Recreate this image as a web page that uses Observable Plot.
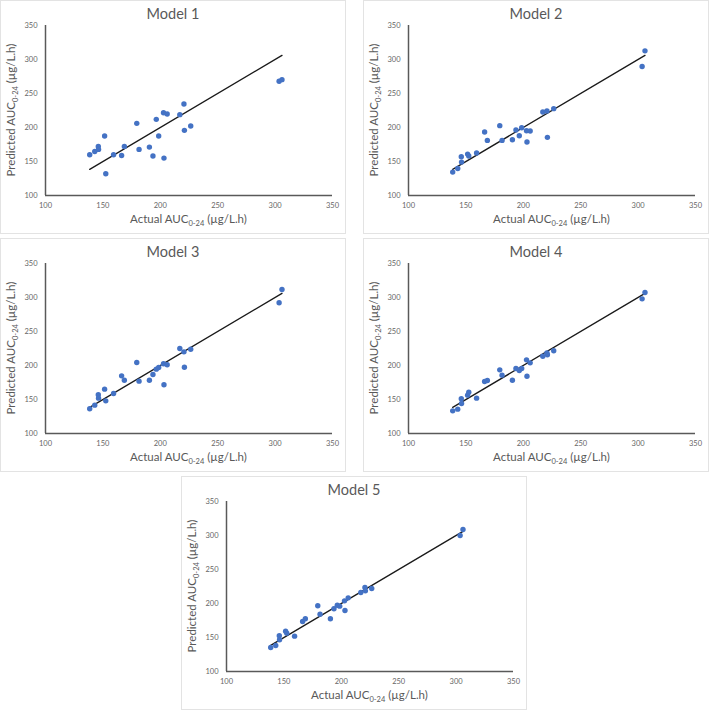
<!DOCTYPE html>
<html><head><meta charset="utf-8">
<script src="https://cdn.jsdelivr.net/npm/d3@7"></script>
<script src="https://cdn.jsdelivr.net/npm/@observablehq/plot@0.6"></script>
<style>
body{margin:0;background:#fff;}
#wrap{position:relative;width:709px;height:710px;font-family:Lato,sans-serif;}
.panel{position:absolute;width:346px;height:234px;border:1px solid #e3e3e3;box-sizing:border-box;background:#fff;}
.panel svg{display:block;}
</style></head><body><div id="wrap"></div>
<script>
// Actual AUC0-24 (µg/L.h), shared by all models
const actual = [138.5, 142.9, 146.0, 146.2, 151.5, 152.5, 159.3, 166.3, 168.7, 179.5, 181.5, 190.5, 193.6, 196.5, 198.6, 202.8, 203.2, 206.0, 217.0, 220.6, 221.0, 226.5, 303.5, 306.0];
// Predicted AUC0-24 per model
const model1 = [160.0, 164.8, 172.2, 167.8, 187.4, 131.9, 160.0, 158.9, 172.2, 206.1, 167.8, 171.2, 158.0, 212.0, 187.4, 221.8, 155.0, 219.8, 218.9, 234.6, 195.8, 202.2, 268.0, 270.4];
const model2 = [134.4, 139.8, 157.0, 149.1, 160.9, 158.0, 162.4, 193.3, 181.0, 202.7, 181.0, 182.0, 196.3, 187.9, 199.7, 195.3, 178.6, 194.8, 222.8, 224.3, 185.5, 227.7, 289.6, 312.7];
const model3 = [136.3, 141.7, 156.9, 152.0, 165.2, 148.0, 158.8, 184.8, 178.4, 204.4, 177.0, 178.4, 186.8, 194.6, 197.1, 202.5, 171.6, 201.0, 225.0, 220.1, 197.5, 224.0, 292.2, 311.8];
const model4 = [133.3, 135.8, 151.0, 144.1, 156.4, 160.8, 152.0, 176.5, 177.9, 193.6, 185.8, 178.4, 195.6, 192.6, 195.6, 208.3, 184.3, 203.9, 213.7, 218.6, 215.7, 221.6, 298.0, 307.4];
const model5 = [135.3, 138.2, 152.5, 146.6, 159.3, 156.4, 152.0, 173.5, 177.5, 196.6, 184.3, 177.5, 192.2, 197.5, 196.1, 203.9, 189.7, 208.3, 216.2, 223.5, 218.6, 222.0, 300.0, 308.8];
const modelNames = ["Model 1", "Model 2", "Model 3", "Model 4", "Model 5"];
const axisTicks = [100, 150, 200, 250, 300, 350];

const predicted = [model1, model2, model3, model4, model5];
const panelPos = [[0, 0], [363, 0], [0, 238], [363, 238], [181, 476]];
const wrap = document.getElementById("wrap");
const ext = d3.extent(actual);
const lineData = [{x: ext[0], y: ext[0]}, {x: ext[1], y: ext[1]}];
const W = 344, H = 232, mL = 44, mR = 13, mT = 24, mB = 38;
const grey = "#595959";

predicted.forEach((pred, i) => {
  const rows = actual.map((a, j) => ({actual: a, predicted: pred[j]}));
  const plot = Plot.plot({
    width: W, height: H,
    marginLeft: mL, marginRight: mR, marginTop: mT, marginBottom: mB,
    style: {fontFamily: "Lato, sans-serif", fontSize: "7.5px", color: "#666", background: "transparent", overflow: "visible"},
    x: {domain: [100, 350], label: null},
    y: {domain: [100, 350], label: null},
    marks: [
      Plot.axisX({ticks: axisTicks, tickSize: 0, tickPadding: 7, label: null}),
      Plot.axisY({ticks: axisTicks, tickSize: 0, tickPadding: 8, label: null}),
      Plot.ruleX([100], {stroke: grey, strokeWidth: 1.5}),
      Plot.ruleY([100], {stroke: grey, strokeWidth: 1.5}),
      Plot.line(lineData, {x: "x", y: "y", stroke: "#1a1a1a", strokeWidth: 1.3}),
      Plot.dot(rows, {x: "actual", y: "predicted", r: 2.7, fill: "#4472C4", stroke: "none"})
    ]
  });
  const svg = d3.select(plot);
  const cx = (mL + W - mR) / 2;
  const cy = (mT + H - mB) / 2;
  svg.append("text").attr("x", W / 2).attr("y", 18).attr("text-anchor", "middle")
    .attr("font-size", 14.5).attr("fill", grey).text(modelNames[i]);
  const xt = svg.append("text").attr("x", cx).attr("y", 222).attr("text-anchor", "middle")
    .attr("font-size", 11.5).attr("fill", grey);
  xt.append("tspan").text("Actual AUC");
  xt.append("tspan").attr("font-size", 7.5).attr("dy", 2.5).text("0-24");
  xt.append("tspan").attr("dy", -2.5).text(" (µg/L.h)");
  const yt = svg.append("text").attr("transform", `translate(14,${cy}) rotate(-90)`).attr("text-anchor", "middle")
    .attr("font-size", 11.5).attr("fill", grey);
  yt.append("tspan").text("Predicted AUC");
  yt.append("tspan").attr("font-size", 7.5).attr("dy", 2.5).text("0-24");
  yt.append("tspan").attr("dy", -2.5).text(" (µg/L.h)");

  const div = document.createElement("div");
  div.className = "panel";
  div.style.left = panelPos[i][0] + "px";
  div.style.top = panelPos[i][1] + "px";
  div.appendChild(plot);
  wrap.appendChild(div);
});
</script>
</body></html>
